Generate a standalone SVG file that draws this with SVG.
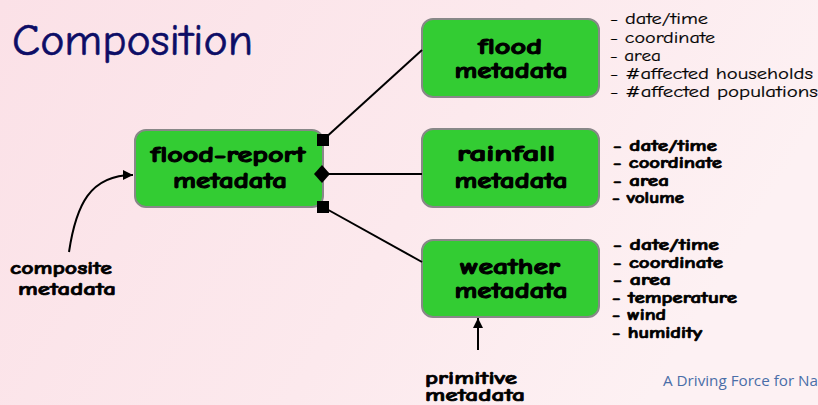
<svg xmlns="http://www.w3.org/2000/svg" width="818" height="405" viewBox="0 0 818 405">
<defs>
<linearGradient id="bg" x1="0" y1="0" x2="1" y2="0.3">
<stop offset="0" stop-color="#fbe1e7"/>
<stop offset="0.6" stop-color="#fce9ed"/>
<stop offset="1" stop-color="#fdf1f3"/>
</linearGradient>
<marker id="arr" viewBox="0 0 10 10" refX="10" refY="5" markerWidth="10" markerHeight="10" markerUnits="userSpaceOnUse" orient="auto">
<path d="M0,0 L10,5 L0,10 Z" fill="#000"/>
</marker>
</defs>
<style>
.box{fill:#33cc33;stroke:#888888;stroke-width:2}
.nt{font-family:"Comic Sans MS","Comic Neue","DejaVu Sans",sans-serif;font-weight:bold;font-size:22px;fill:#000;stroke:#000;stroke-width:1;text-anchor:middle}
.attr{font-family:"Comic Sans MS","Comic Neue","DejaVu Sans",sans-serif;font-size:16.5px;fill:#000;stroke:#000;stroke-width:0.2}
.attrb{font-family:"Comic Sans MS","Comic Neue","DejaVu Sans",sans-serif;font-size:15.5px;font-weight:bold;fill:#000;stroke:#000;stroke-width:0.7}
.lbl{font-family:"Comic Sans MS","Comic Neue","DejaVu Sans",sans-serif;font-size:18px;font-weight:bold;fill:#000;stroke:#000;stroke-width:0.7}
.ln{stroke:#000;stroke-width:2;fill:none}
</style>
<rect width="818" height="405" fill="url(#bg)"/>
<text x="12" y="55" font-family="'Comic Sans MS','Comic Neue','DejaVu Sans',sans-serif" font-size="44" fill="#0d0d66" stroke="#0d0d66" stroke-width="0.6" textLength="241" lengthAdjust="spacingAndGlyphs">Composition</text>

<g id="flood-report">
<rect class="box" x="135" y="130" width="188" height="77" rx="11"/>
<text class="nt" x="228" y="162" textLength="155" lengthAdjust="spacingAndGlyphs">flood-report</text>
<text class="nt" x="230" y="188" textLength="114" lengthAdjust="spacingAndGlyphs">metadata</text>
</g>

<g id="flood">
<rect class="box" x="422" y="19" width="177" height="78" rx="11"/>
<text class="nt" x="510" y="54" textLength="64" lengthAdjust="spacingAndGlyphs">flood</text>
<text class="nt" x="511" y="78" textLength="113" lengthAdjust="spacingAndGlyphs">metadata</text>
<text class="attr" x="610" y="24" textLength="98" lengthAdjust="spacingAndGlyphs">- date/time</text>
<text class="attr" x="610" y="43" textLength="105" lengthAdjust="spacingAndGlyphs">- coordinate</text>
<text class="attr" x="610" y="61" textLength="51" lengthAdjust="spacingAndGlyphs">- area</text>
<text class="attr" x="610" y="79" textLength="203" lengthAdjust="spacingAndGlyphs">- #affected households</text>
<text class="attr" x="610" y="97" textLength="208" lengthAdjust="spacingAndGlyphs">- #affected populations</text>
</g>

<g id="rainfall">
<rect class="box" x="422" y="129" width="177" height="78" rx="11"/>
<text class="nt" x="506" y="161" textLength="98" lengthAdjust="spacingAndGlyphs">rainfall</text>
<text class="nt" x="511" y="188" textLength="113" lengthAdjust="spacingAndGlyphs">metadata</text>
<text class="attrb" x="613" y="151" textLength="104" lengthAdjust="spacingAndGlyphs">-  date/time</text>
<text class="attrb" x="613" y="168" textLength="109" lengthAdjust="spacingAndGlyphs">-  coordinate</text>
<text class="attrb" x="613" y="186" textLength="56" lengthAdjust="spacingAndGlyphs">-  area</text>
<text class="attrb" x="612" y="203" textLength="72" lengthAdjust="spacingAndGlyphs">- volume</text>
</g>

<g id="weather">
<rect class="box" x="422" y="240" width="177" height="77" rx="11"/>
<text class="nt" x="510" y="274" textLength="100" lengthAdjust="spacingAndGlyphs">weather</text>
<text class="nt" x="511" y="298" textLength="113" lengthAdjust="spacingAndGlyphs">metadata</text>
<text class="attrb" x="613" y="250" textLength="106" lengthAdjust="spacingAndGlyphs">-  date/time</text>
<text class="attrb" x="613" y="268" textLength="110" lengthAdjust="spacingAndGlyphs">-  coordinate</text>
<text class="attrb" x="613" y="285" textLength="58" lengthAdjust="spacingAndGlyphs">-  area</text>
<text class="attrb" x="612" y="303" textLength="125" lengthAdjust="spacingAndGlyphs">- temperature</text>
<text class="attrb" x="612" y="320" textLength="54" lengthAdjust="spacingAndGlyphs">- wind</text>
<text class="attrb" x="612" y="338" textLength="90" lengthAdjust="spacingAndGlyphs">- humidity</text>
</g>

<g id="composite-label">
<text class="lbl" x="10" y="274" textLength="102" lengthAdjust="spacingAndGlyphs">composite</text>
<text class="lbl" x="18" y="295" textLength="98" lengthAdjust="spacingAndGlyphs">metadata</text>
</g>

<g id="primitive-label">
<text class="lbl" x="425" y="384" textLength="92" lengthAdjust="spacingAndGlyphs">primitive</text>
<text class="lbl" x="425" y="401" textLength="100" lengthAdjust="spacingAndGlyphs">metadata</text>
</g>

<text x="663" y="386" font-family="'Open Sans','Liberation Sans',sans-serif" font-size="14.5" fill="#4a6ea8" textLength="155" lengthAdjust="spacingAndGlyphs">A Driving Force for Na</text>

<g id="connectors">
<line class="ln" x1="323" y1="140" x2="422" y2="50"/>
<line class="ln" x1="323" y1="174" x2="422" y2="174"/>
<line class="ln" x1="323" y1="207" x2="422" y2="262"/>
<rect x="317" y="134" width="12" height="12" fill="#000"/>
<path d="M314,174 L322,165 L330,174 L322,183 Z" fill="#000"/>
<rect x="317" y="201" width="12" height="12" fill="#000"/>
<path class="ln" d="M69,252 C76,205 90,175 133,175" stroke-width="1.6" marker-end="url(#arr)"/>
<line class="ln" x1="478" y1="350" x2="478" y2="318" stroke-width="1.6" marker-end="url(#arr)"/>
</g>
</svg>
